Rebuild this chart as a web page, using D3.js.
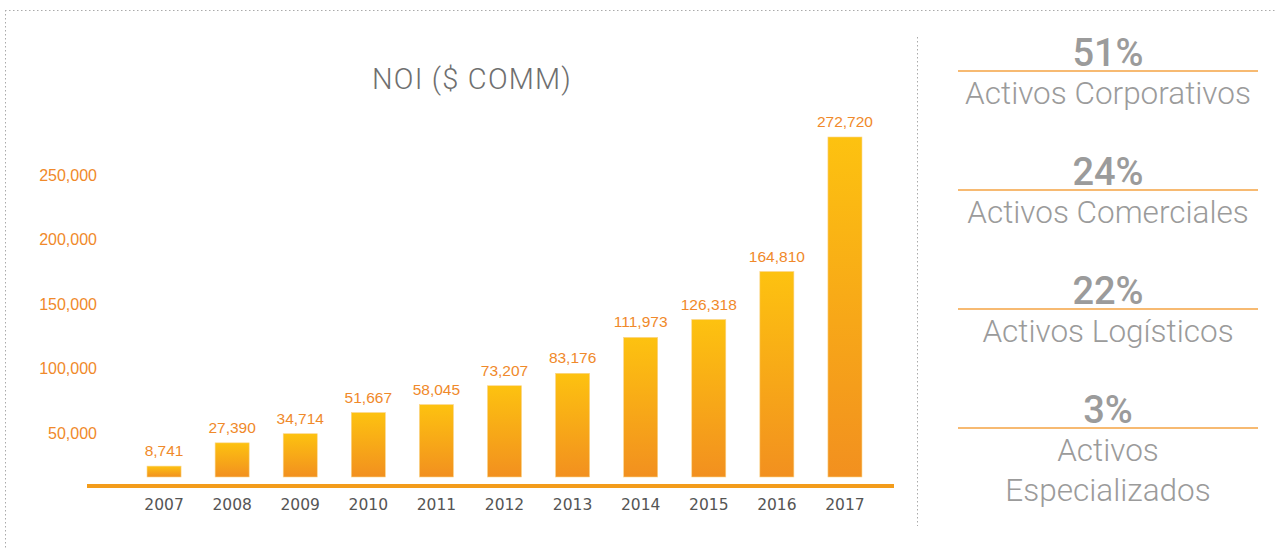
<!DOCTYPE html>
<html>
<head>
  <meta charset="UTF-8">
  <script src="https://cdn.jsdelivr.net/npm/d3@7"></script>
  <style>
      * { box-sizing: border-box; }
      html, body { margin: 0; padding: 0; background: #fff; }
  </style>
</head>
<body>
<div id="root"></div>
<script>

  // data
  var years = ["2007", "2008", "2009", "2010", "2011", "2012", "2013", "2014", "2015", "2016", "2017"];
  var noi = [8741, 27390, 34714, 51667, 58045, 73207, 83176, 111973, 126318, 164810, 272720];
  var yTicks = [50000, 100000, 150000, 200000, 250000];
  var shares = ["51%", "24%", "22%", "3%"];
  var shareLabels = [["Activos Corporativos"], ["Activos Comerciales"], ["Activos Logísticos"], ["Activos", "Especializados"]];

  var width = 1277, height = 549;
  var orange = "#f0892a";

  var svg = d3.select("#root").append("svg")
    .attr("width", width)
    .attr("height", height);

  var defs = svg.append("defs");
  var grad = defs.append("linearGradient")
    .attr("id", "barGrad")
    .attr("x1", 0).attr("y1", 0).attr("x2", 0).attr("y2", 1);
  grad.append("stop").attr("offset", "0%").attr("stop-color", "#fdc210");
  grad.append("stop").attr("offset", "100%").attr("stop-color", "#f2901f");

  // dotted frame
  svg.append("line")
    .attr("x1", 5).attr("x2", width).attr("y1", 10.5).attr("y2", 10.5)
    .attr("stroke", "#aaa").attr("stroke-dasharray", "1.5,2.5");
  svg.append("line")
    .attr("x1", 5.5).attr("x2", 5.5).attr("y1", 10).attr("y2", height)
    .attr("stroke", "#aaa").attr("stroke-dasharray", "1.5,2.5");
  svg.append("line")
    .attr("x1", 917.5).attr("x2", 917.5).attr("y1", 37).attr("y2", 526)
    .attr("stroke", "#aaa").attr("stroke-dasharray", "1.5,2.5");

  // scales
  var x = d3.scaleBand().domain(years).range([130, 879]).paddingInner(0.5).paddingOuter(0.25);
  var y = d3.scaleLinear().domain([0, 272720]).range([477, 137]);
  // the tick labels in the original sit on their own scale
  var yAxisScale = d3.scaleLinear().domain([0, 250000]).range([497.5, 175]);

  // title
  svg.append("text")
    .attr("x", 472).attr("y", 89)
    .attr("text-anchor", "middle")
    .attr("font-family", "Roboto, 'Liberation Sans', sans-serif")
    .attr("font-weight", 300)
    .attr("font-size", 29)
    .attr("letter-spacing", 1.2)
    .attr("fill", "#6f6f6f")
    .text("NOI ($ COMM)");

  // y axis labels
  var yAxis = d3.axisLeft(yAxisScale)
    .tickValues(yTicks)
    .tickFormat(d3.format(","))
    .tickSize(0)
    .tickPadding(0);
  var gy = svg.append("g")
    .attr("transform", "translate(97,0)")
    .call(yAxis);
  gy.select(".domain").remove();
  gy.selectAll("text")
    .attr("fill", orange)
    .attr("font-family", "'Liberation Sans', Arial, sans-serif")
    .attr("font-size", 16);

  // bars
  svg.selectAll("rect.bar")
    .data(noi)
    .join("rect")
    .attr("class", "bar")
    .attr("x", function(d, i) { return x(years[i]); })
    .attr("y", function(d) { return y(d); })
    .attr("width", x.bandwidth())
    .attr("height", function(d) { return y(0) - y(d); })
    .attr("fill", "url(#barGrad)")
    .attr("stroke", "#fbd58a")
    .attr("stroke-width", 0.6);

  // value labels
  svg.selectAll("text.val")
    .data(noi)
    .join("text")
    .attr("class", "val")
    .attr("x", function(d, i) { return x(years[i]) + x.bandwidth() / 2; })
    .attr("y", function(d) { return y(d) - 10; })
    .attr("text-anchor", "middle")
    .attr("font-family", "'Liberation Sans', Arial, sans-serif")
    .attr("font-size", 15.5)
    .attr("fill", orange)
    .text(d3.format(","));

  // baseline
  svg.append("line")
    .attr("x1", 87).attr("x2", 894).attr("y1", 486).attr("y2", 486)
    .attr("stroke", "#f39c1b").attr("stroke-width", 4);

  // x axis labels
  var xAxis = d3.axisBottom(x).tickSize(0).tickPadding(0);
  var gx = svg.append("g")
    .attr("transform", "translate(0,499)")
    .call(xAxis);
  gx.select(".domain").remove();
  gx.selectAll("text")
    .attr("fill", "#555")
    .attr("font-family", "'DejaVu Sans', sans-serif")
    .attr("font-size", 15.5)
    .attr("dy", "0.71em");

  // right panel
  var panelX = 1108;
  var lineY = d3.scalePoint().domain(shares).range([71, 428]);

  var items = svg.selectAll("g.share")
    .data(shares)
    .join("g")
    .attr("class", "share")
    .attr("transform", function(d) { return "translate(0," + lineY(d) + ")"; });

  items.append("line")
    .attr("x1", 958).attr("x2", 1258)
    .attr("stroke", "#f5a343").attr("stroke-width", 1.5);

  items.append("text")
    .attr("x", panelX).attr("y", -5)
    .attr("text-anchor", "middle")
    .attr("font-family", "Roboto, 'Liberation Sans', sans-serif")
    .attr("font-weight", 500)
    .attr("font-size", 38)
    .attr("fill", "#9b9b9b")
    .text(function(d) { return d; });

  items.each(function(d, i) {
    d3.select(this).selectAll("text.lbl")
      .data(shareLabels[i])
      .join("text")
      .attr("class", "lbl")
      .attr("x", panelX)
      .attr("y", function(t, j) { return 33 + j * 40; })
      .attr("text-anchor", "middle")
      .attr("font-family", "Roboto, 'Liberation Sans', sans-serif")
      .attr("font-weight", 300)
      .attr("font-size", 31.5)
      .attr("fill", "#9b9b9b")
      .text(function(t) { return t; });
  });

</script>
</body>
</html>
